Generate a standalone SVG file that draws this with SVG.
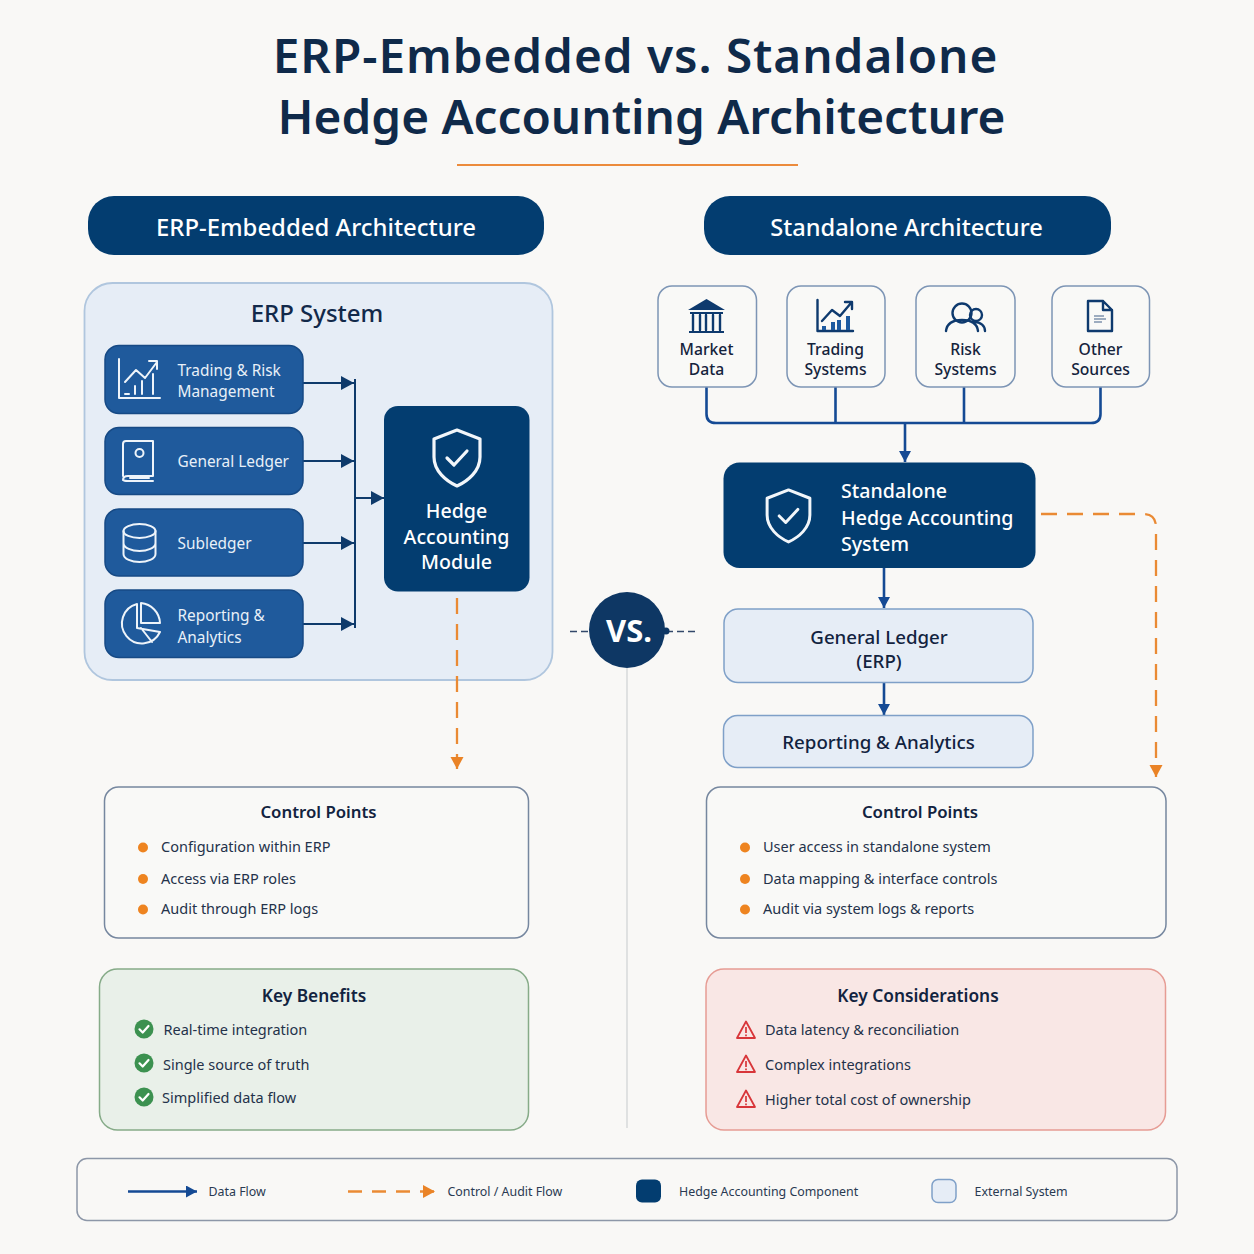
<svg xmlns="http://www.w3.org/2000/svg" width="1254" height="1254" viewBox="0 0 1254 1254">
<style>
text{font-family:"Noto Sans","Liberation Sans",sans-serif;}
.title{font-size:47.700px;font-weight:600;fill:#0f2a4a;text-anchor:middle}
.hdr{font-size:23.900px;font-weight:500;fill:#fff;text-anchor:middle}
.sys{font-size:24px;font-weight:500;fill:#12294a;text-anchor:middle}
.blue{fill:#1f5a9c;stroke:#174a85;stroke-width:1.5}
.navy{fill:#033d70}
.lt{font-size:15.400px;fill:#e8f0f8}
.ic{fill:none;stroke:#eef4fa;stroke-width:2;stroke-linejoin:round;stroke-linecap:round}
.icd{fill:none;stroke:#0e3a6e;stroke-width:2.4;stroke-linejoin:round;stroke-linecap:round}
.src{fill:#f9f9f7;stroke:#7d95b5;stroke-width:1.5}
.srct{font-size:15.700px;font-weight:500;fill:#14233c;text-anchor:middle}
.wh{font-size:19.600px;font-weight:500;fill:#fff;text-anchor:middle}
.ext{fill:#e6edf6;stroke:#7fa0c8;stroke-width:1.5}
.extt{font-size:18.700px;font-weight:500;fill:#12233f;text-anchor:middle}
.cp{fill:#f9f9f7;stroke:#76879f;stroke-width:1.5}
.h3{font-size:16.800px;font-weight:600;fill:#12233f;text-anchor:middle}
.h3b{font-size:17.300px}
.li{font-size:14.500px;fill:#24324a}
.dot{fill:#ee8420}
.flow{fill:none;stroke:#0e3a6b;stroke-width:2}
.flow2{fill:none;stroke:#154a94;stroke-width:2.6}
.ctl{fill:none;stroke:#ea8a34;stroke-width:2.300;stroke-dasharray:16 10}
.leg{font-size:12.400px;fill:#2a3a52}
.warn{fill:none;stroke:#d8363a;stroke-width:1.8;stroke-linejoin:round}
</style>
<defs>
<marker id="a1" markerUnits="userSpaceOnUse" markerWidth="14" markerHeight="16" refX="13" refY="7" orient="auto"><path d="M0 0L13 7L0 14Z" fill="#0e3a6b"/></marker>
<marker id="a2" markerUnits="userSpaceOnUse" markerWidth="12" markerHeight="12" refX="11" refY="6" orient="auto"><path d="M0 0L11 6L0 12Z" fill="#154a94"/></marker>
<marker id="a3" markerUnits="userSpaceOnUse" markerWidth="14" markerHeight="14" refX="12" refY="6.5" orient="auto"><path d="M0 0L12 6.500L0 13Z" fill="#ea8326"/></marker>
<g id="chk"><circle r="9.500" fill="#3c9150"/><path d="M-4.500 0.300L-1.300 3.500L4.500-3" fill="none" stroke="#fff" stroke-width="2.200" stroke-linecap="round" stroke-linejoin="round"/></g>
<g id="wrn"><path class="warn" d="M0-8.500L9 8H-9Z"/><path d="M0-3V3M0 4.600V6.200" stroke="#d8363a" stroke-width="1.700" fill="none"/></g>
<g id="shield"><path d="M0-27L23-18V0C23 14 11 24 0 29C-11 24-23 14-23 0V-18Z" fill="none" stroke="#f2f6fa" stroke-width="3.200" stroke-linejoin="round"/><path d="M-10 1L-3 8L10-6" fill="none" stroke="#f2f6fa" stroke-width="3.200" stroke-linecap="round" stroke-linejoin="round"/></g>
</defs>
<rect width="1254" height="1254" fill="#f9f8f6"/>
<g id="title">
<text class="title" x="635.500" y="73" letter-spacing=".95">ERP-Embedded vs. Standalone</text>
<text class="title" x="641.500" y="134">Hedge Accounting Architecture</text>
<rect x="457" y="164" width="341" height="2" fill="#ec8b3c"/>
</g>
<g id="header-erp"><rect x="88" y="196" width="456" height="59" rx="26" fill="#033d70"/><text class="hdr" x="316" y="236">ERP-Embedded Architecture</text></g>
<g id="header-standalone"><rect x="704" y="196" width="407" height="59" rx="26" fill="#033d70"/><text class="hdr" x="906.500" y="236" font-size="23.600" style="font-size:23.600px">Standalone Architecture</text></g>
<g id="erp-system"><rect x="84.500" y="283" width="468" height="397" rx="28" fill="#e6edf6" stroke="#b0c6de" stroke-width="1.800"/><text class="sys" x="317" y="322">ERP System</text></g>
<g id="connectors">
<path class="flow" d="M303 383H354" marker-end="url(#a1)"/>
<path class="flow" d="M303 461H354" marker-end="url(#a1)"/>
<path class="flow" d="M303 543H354" marker-end="url(#a1)"/>
<path class="flow" d="M303 624H354" marker-end="url(#a1)"/>
<path class="flow" d="M355 379V628" stroke-width="1.500"/>
<path class="flow" d="M355 498H384" marker-end="url(#a1)"/>
<path class="ctl" d="M457 598V769" marker-end="url(#a3)"/>
<path class="flow2" d="M706.500 387V414Q706.500 423 716 423H1091Q1100.500 423 1100.500 414V387M835.500 387V423M964 387V423"/>
<path class="flow2" d="M905 423V462" marker-end="url(#a2)"/>
<path class="flow2" d="M884 568V608" marker-end="url(#a2)"/>
<path class="flow2" d="M884 683V715" marker-end="url(#a2)"/>
<path class="ctl" d="M1041 514H1143Q1156 514 1156 527V777" marker-end="url(#a3)"/>
<path d="M570 631.500H590M666 631.500H696" fill="none" stroke="#33486a" stroke-width="1.500" stroke-dasharray="7 4"/>
<path d="M627 668V1128" stroke="#d2d4d6" stroke-width="1.300" fill="none"/>
</g>
<g id="node-trading"><rect class="blue" x="105" y="345.500" width="198" height="68" rx="14"/>
<path class="ic" d="M119 359V398H160M125 394H129M135 394V386M142 394V381M153 394V374M125 382L136 370L145 378L157 362M149 361H157V369"/>
<text class="lt" x="177.500" y="376">Trading &amp; Risk</text><text class="lt" x="177.500" y="397">Management</text></g>
<g id="node-gl"><rect class="blue" x="105" y="427.500" width="198" height="67" rx="14"/>
<path class="ic" d="M123 476V444Q123 441 126 441H153V476H128Q123 476 123 480Q124 481 128 481H153M130 478H149"/><circle class="ic" cx="139.500" cy="453" r="4"/>
<text class="lt" x="177.500" y="467">General Ledger</text></g>
<g id="node-sub"><rect class="blue" x="105" y="509" width="198" height="67" rx="14"/>
<ellipse class="ic" cx="139.500" cy="531" rx="16" ry="7"/><path class="ic" d="M123.500 531V554C123.500 559 132 562 139.500 562S155.500 559 155.500 554V531M123.500 543C123.500 548 132 551 139.500 551S155.500 548 155.500 543"/>
<text class="lt" x="177.500" y="549">Subledger</text></g>
<g id="node-rep"><rect class="blue" x="105" y="590" width="198" height="67.500" rx="14"/>
<path class="ic" d="M137 604A20 20 0 1 0 160 632L137 628ZM141 628L152 642M141 603A21 21 0 0 1 160 623H141Z"/>
<text class="lt" x="177.500" y="621">Reporting &amp;</text><text class="lt" x="177.500" y="643">Analytics</text></g>
<g id="node-module"><rect class="navy" x="384" y="406" width="145.500" height="185.500" rx="14"/>
<use href="#shield" x="457" y="457"/>
<text class="wh" x="456.500" y="518">Hedge</text><text class="wh" x="456.500" y="543.500">Accounting</text><text class="wh" x="456.500" y="568.500">Module</text></g>
<g id="src-market"><rect class="src" x="658" y="286" width="98.500" height="101" rx="14"/>
<path d="M688 310L706.500 299L725 310ZM690 312H723V314H690ZM689 331H724V333H689Z" fill="#0e3a6e"/><path class="icd" d="M693 315V330M700 315V330M706 315V330M713 315V330M720 315V330" stroke-width="2"/>
<text class="srct" x="706.500" y="355">Market</text><text class="srct" x="706.500" y="375">Data</text></g>
<g id="src-trading"><rect class="src" x="787" y="286" width="98" height="101" rx="14"/>
<path class="icd" d="M817.500 300V331H853M822 321L832 310L840 316L851 303M845 302H852V309" stroke-width="2"/><path d="M822 326h4v4h-4zM831 322h4v8h-4zM837 320h4v10h-4zM846 316h4v14h-4z" fill="#1d5aa0"/>
<text class="srct" x="835.500" y="355">Trading</text><text class="srct" x="835.500" y="375">Systems</text></g>
<g id="src-risk"><rect class="src" x="916" y="286" width="99" height="101" rx="14"/>
<circle class="icd" cx="962" cy="313" r="9.500"/><path class="icd" d="M946 331C947 323 954 320 962 320S977 323 978 331"/><circle class="icd" cx="976" cy="315" r="6"/><path class="icd" d="M974 322C981 322 985 326 985 331"/>
<text class="srct" x="965.500" y="355">Risk</text><text class="srct" x="965.500" y="375">Systems</text></g>
<g id="src-other"><rect class="src" x="1052" y="286" width="97.500" height="101" rx="14"/>
<path class="icd" d="M1088 301H1103L1112 310V331H1088ZM1103 301V310H1112"/><path d="M1094 316h10M1094 319h12M1094 322h8" stroke="#7f93ad" stroke-width="1.500" fill="none"/>
<text class="srct" x="1100.500" y="355">Other</text><text class="srct" x="1100.500" y="375">Sources</text></g>
<g id="node-standalone"><rect class="navy" x="723.500" y="462.500" width="312" height="105.500" rx="16"/>
<use href="#shield" transform="translate(788.500 515) scale(.93)"/>
<text class="wh" style="text-anchor:start" x="841" y="498">Standalone</text><text class="wh" style="text-anchor:start" x="841" y="524.500">Hedge Accounting</text><text class="wh" style="text-anchor:start" x="841" y="551">System</text></g>
<g id="node-gl-erp"><rect class="ext" x="724" y="609" width="309" height="73.500" rx="14"/><text class="extt" x="879" y="644">General Ledger</text><text class="extt" x="879" y="668">(ERP)</text></g>
<g id="node-reporting"><rect class="ext" x="723.500" y="715.500" width="309.500" height="52" rx="14"/><text class="extt" x="878.500" y="749">Reporting &amp; Analytics</text></g>
<g id="vs"><circle cx="627" cy="630" r="38" fill="#0e3764"/><circle cx="666" cy="631" r="3.500" fill="#0e3764"/><text x="629" y="642" font-size="31" font-weight="700" fill="#fff" text-anchor="middle">VS.</text></g>
<g id="control-left"><rect class="cp" x="104.500" y="787" width="424" height="151" rx="14"/><text class="h3" x="318.500" y="818">Control Points</text>
<circle class="dot" cx="143" cy="847.500" r="5"/><circle class="dot" cx="143" cy="879" r="5"/><circle class="dot" cx="143" cy="909.500" r="5"/>
<text class="li" x="161" y="852">Configuration within ERP</text><text class="li" x="161" y="884">Access via ERP roles</text><text class="li" x="161" y="914">Audit through ERP logs</text></g>
<g id="control-right"><rect class="cp" x="706.500" y="787" width="459.500" height="151" rx="14"/><text class="h3" x="920" y="818">Control Points</text>
<circle class="dot" cx="745" cy="847.500" r="5"/><circle class="dot" cx="745" cy="879" r="5"/><circle class="dot" cx="745" cy="909.500" r="5"/>
<text class="li" x="763" y="852">User access in standalone system</text><text class="li" x="763" y="884">Data mapping &amp; interface controls</text><text class="li" x="763" y="914">Audit via system logs &amp; reports</text></g>
<g id="benefits"><rect x="99.500" y="969" width="429" height="161" rx="18" fill="#e9f0e9" stroke="#86ab88" stroke-width="1.500"/><text class="h3 h3b" x="314" y="1002">Key Benefits</text>
<use href="#chk" x="144" y="1029"/><use href="#chk" x="144" y="1063"/><use href="#chk" x="144" y="1097"/>
<text class="li" x="163.500" y="1035">Real-time integration</text><text class="li" x="163" y="1070">Single source of truth</text><text class="li" x="162" y="1103">Simplified data flow</text></g>
<g id="considerations"><rect x="706" y="969" width="459.500" height="161" rx="18" fill="#f9e7e5" stroke="#e69c94" stroke-width="1.500"/><text class="h3 h3b" x="918" y="1002">Key Considerations</text>
<use href="#wrn" x="746" y="1030"/><use href="#wrn" x="746" y="1064"/><use href="#wrn" x="746" y="1099"/>
<text class="li" x="765" y="1035">Data latency &amp; reconciliation</text><text class="li" x="765" y="1070">Complex integrations</text><text class="li" x="765" y="1105">Higher total cost of ownership</text></g>
<g id="legend"><rect x="77" y="1158.500" width="1100" height="62" rx="10" fill="#f9f8f6" stroke="#8d97a8" stroke-width="1.500"/>
<path d="M128 1191.500H197" class="flow2" marker-end="url(#a2)"/><text class="leg" x="208.500" y="1196">Data Flow</text>
<path d="M348 1191.500H435" fill="none" stroke="#ea8a34" stroke-width="2.300" stroke-dasharray="14 10" marker-end="url(#a3)"/><text class="leg" x="447.500" y="1196">Control / Audit Flow</text>
<rect x="636" y="1179.500" width="25" height="23" rx="6" fill="#033d70"/><text class="leg" x="679" y="1196">Hedge Accounting Component</text>
<rect x="932" y="1179.500" width="24" height="23" rx="6" class="ext"/><text class="leg" x="974.500" y="1196">External System</text></g>
</svg>
